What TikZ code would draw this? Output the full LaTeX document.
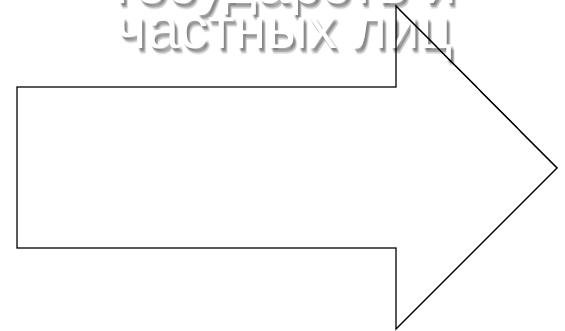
\documentclass[tikz,border=0pt]{standalone}
\usepackage{fontspec}
\setmainfont{Liberation Sans}
\begin{document}
\begin{tikzpicture}[x=1pt,y=1pt,
  txt/.style={font=\fontsize{58}{58}\selectfont, anchor=base, inner sep=0pt},
  shadowtxt/.style={txt, text=black, opacity=0.09},
  arrowline/.style={draw=black, line width=1.4pt, line join=miter}]
\useasboundingbox (0,0) rectangle (565,331);
% text shadows (blurred look)
\foreach \dx/\dy in {2/-3,3/-4,1/-2,3/-2,2/-4,4/-5,3/-6} {
  \node[shadowtxt] (s1) at (286+\dx,327+\dy) {государств и};
  \node[shadowtxt] (s2) at (285+\dx,282+\dy) {частных лиц};
}
\node[txt, text=white] (l1) at (286,327) {государств и};
\node[txt, text=white] (l2) at (285,282) {частных лиц};
% arrow
\coordinate (a1) at (17,244);
\coordinate (a2) at (396,244);
\coordinate (a3) at (396,325);
\coordinate (tip) at (557,163);
\coordinate (a5) at (396,2);
\coordinate (a6) at (396,83);
\coordinate (a7) at (17,83);
\draw[arrowline] (a1) -- (a2) -- (a3) -- (tip) -- (a5) -- (a6) -- (a7) -- cycle;
\end{tikzpicture}
\end{document}
